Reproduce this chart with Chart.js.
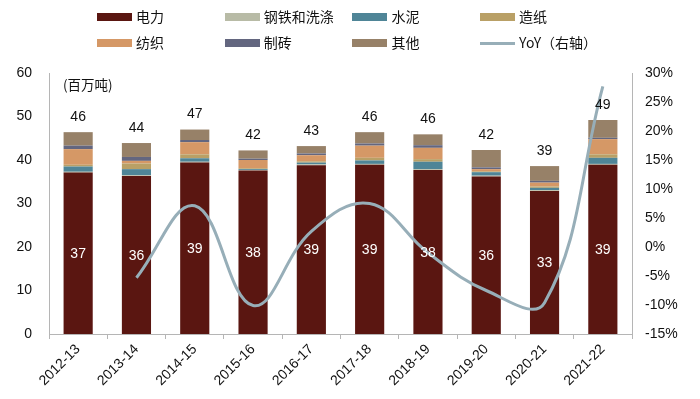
<!DOCTYPE html>
<html>
<head>
<meta charset="utf-8">
<script src="https://cdn.jsdelivr.net/npm/chart.js@4"></script>
<style>
  html, body { margin: 0; padding: 0; background: #fff; }
  #wrap { position: relative; width: 700px; height: 399px; }
  canvas { position: absolute; left: 0; top: 0; }
  .lg { position: absolute; font: 14px "Noto Sans CJK SC", "Liberation Sans", sans-serif; color: #111; line-height: 16px; white-space: nowrap; }
  .lg i { display: inline-block; width: 35px; height: 8px; margin-right: 4px; vertical-align: middle; position: relative; top: -1px; }
  .lg i.ln { height: 3px; }
  #unit { position: absolute; left: 63px; top: 74px; font: 13.5px "Noto Sans CJK SC", "Liberation Sans", sans-serif; color: #111; }
</style>
</head>
<body>
<div id="wrap">
  <canvas id="c" width="700" height="399"></canvas>
  <div id="legend"></div>
  <div id="unit">(百万吨)</div>
</div>
<script>
// ---- data ----
const categories = ['2012-13','2013-14','2014-15','2015-16','2016-17','2017-18','2018-19','2019-20','2020-21','2021-22'];
const electricity = [37.1, 36.3, 39.4, 37.6, 38.8, 38.9, 37.7, 36.2, 32.9, 38.9];
const steelWashing = [0.2, 0.2, 0.2, 0.1, 0.2, 0.2, 0.2, 0.2, 0.2, 0.2];
const cement = [1.2, 1.4, 0.8, 0.2, 0.4, 0.8, 1.7, 0.8, 0.5, 1.4];
const paper = [0.4, 1.3, 0.9, 0.2, 0.3, 0.6, 0.6, 0.2, 0.3, 0.8];
const textile = [3.6, 0.6, 2.8, 1.9, 1.4, 2.8, 2.6, 0.5, 0.9, 3.5];
const brick = [0.8, 0.9, 0.5, 0.3, 0.4, 0.5, 0.6, 0.4, 0.4, 0.3];
const other = [3.1, 3.2, 2.4, 1.9, 1.7, 2.6, 2.5, 4.0, 3.4, 4.1];
const yoy = [null, -5.3, 7.1, -10.1, 2.7, 7.5, -1.0, -7.5, -9.6, 27.7];
const leftTicks = [0, 10, 20, 30, 40, 50, 60];
const rightTicks = [-15, -10, -5, 0, 5, 10, 15, 20, 25, 30];

const seriesNames = ['电力', '钢铁和洗涤', '水泥', '造纸', '纺织', '制砖', '其他'];
const seriesData = [electricity, steelWashing, cement, paper, textile, brick, other];
const seriesColors = ['#5A1611', '#B8BBA6', '#4F8597', '#B9A066', '#D59866', '#63667F', '#978168'];
const yoyName = 'YoY（右轴）';
const yoyColor = '#97AEB8';

// ---- legend (HTML, 4 columns x 2 rows) ----
const legendItems = seriesNames.map((n, i) => ({ name: n, color: seriesColors[i], line: false }));
legendItems.push({ name: yoyName, color: yoyColor, line: true });
const lgEl = document.getElementById('legend');
legendItems.forEach((it, idx) => {
  const col = idx % 4, row = Math.floor(idx / 4);
  const d = document.createElement('div');
  d.className = 'lg';
  d.style.left = (97 + col * 127.7) + 'px';
  d.style.top = (8 + row * 26) + 'px';
  d.innerHTML = '<i class="' + (it.line ? 'ln' : '') + '" style="background:' + it.color + '"></i>' + it.name;
  lgEl.appendChild(d);
});

// ---- datasets ----
const datasets = seriesNames.map((n, i) => ({
  type: 'bar',
  label: n,
  data: seriesData[i],
  backgroundColor: seriesColors[i],
  borderWidth: 0,
  yAxisID: 'y',
  stack: 's',
  order: 2,
  barPercentage: 0.5,
  categoryPercentage: 1.0
}));
datasets.push({
  type: 'line',
  label: yoyName,
  data: yoy,
  borderColor: yoyColor,
  backgroundColor: yoyColor,
  borderWidth: 3,
  pointRadius: 0,
  tension: 0.4,
  yAxisID: 'y1',
  order: 1
});

const labelPlugin = {
  id: 'valueLabels',
  afterDatasetsDraw(chart) {
    const ctx = chart.ctx;
    ctx.save();
    ctx.font = '14px "Liberation Sans", Arial, sans-serif';
    ctx.textAlign = 'center';
    ctx.textBaseline = 'middle';
    const m0 = chart.getDatasetMeta(0);
    ctx.fillStyle = '#ffffff';
    m0.data.forEach((el, i) => {
      ctx.fillText(String(Math.round(electricity[i])), el.x, (el.y + el.base) / 2 + 1);
    });
    const mTop = chart.getDatasetMeta(seriesData.length - 1);
    ctx.fillStyle = '#111111';
    mTop.data.forEach((el, i) => {
      const total = seriesData.reduce((s, arr) => s + arr[i], 0);
      ctx.fillText(String(Math.round(total)), el.x, el.y - 15);
    });
    ctx.restore();
  }
};

Chart.defaults.font.family = '"Liberation Sans", Arial, "Noto Sans CJK SC", sans-serif';
Chart.defaults.color = '#111';

new Chart(document.getElementById('c'), {
  data: { labels: categories, datasets },
  options: {
    responsive: false,
    animation: false,
    layout: { padding: { top: 73, left: 0, right: 0, bottom: 0 } },
    plugins: { legend: { display: false }, tooltip: { enabled: false } },
    scales: {
      x: {
        stacked: true,
        grid: { display: true, drawOnChartArea: false, drawTicks: true, tickLength: 5, color: '#B5B5B5', offset: true },
        border: { display: true, color: '#B5B5B5', width: 1 },
        ticks: { minRotation: 45, maxRotation: 45, padding: 2, font: { size: 14 } },
        afterFit(s) { s.height = 65; }
      },
      y: {
        stacked: true,
        position: 'left',
        min: 0, max: 60,
        afterBuildTicks(s) { s.ticks = leftTicks.map(v => ({ value: v })); },
        grid: { display: false, drawTicks: false },
        border: { display: true, color: '#B5B5B5', width: 1 },
        ticks: { padding: 17, font: { size: 14 } },
        afterFit(s) { s.width = 49; }
      },
      y1: {
        position: 'right',
        min: -15, max: 30,
        afterBuildTicks(s) { s.ticks = rightTicks.map(v => ({ value: v })); },
        grid: { display: true, drawOnChartArea: false, drawTicks: false },
        border: { display: true, color: '#B5B5B5', width: 1 },
        ticks: { padding: 13, font: { size: 14 }, callback: v => v + '%' },
        afterFit(s) { s.width = 68; }
      }
    }
  },
  plugins: [labelPlugin]
});
</script>
</body>
</html>
